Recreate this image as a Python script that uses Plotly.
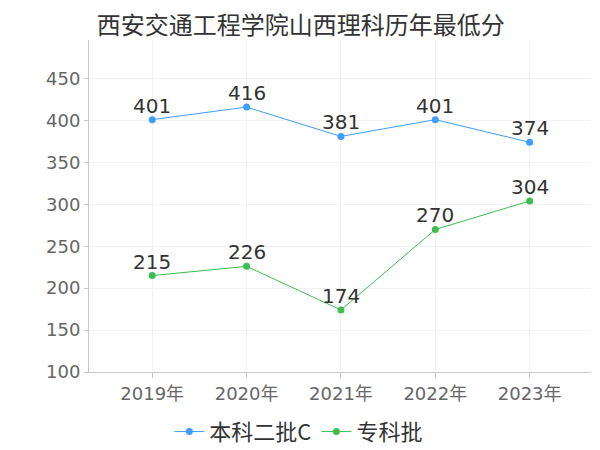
import plotly.graph_objects as go

years = ["2019年", "2020年", "2021年", "2022年", "2023年"]
benke = [401, 416, 381, 401, 374]
zhuanke = [215, 226, 174, 270, 304]
series_names = ["本科二批C", "专科批"]
yticks = [100, 150, 200, 250, 300, 350, 400, 450]

num_font = "DejaVu Sans, Noto Sans CJK SC, sans-serif"
cjk_font = "Noto Sans CJK SC, DejaVu Sans, sans-serif"
colors = ["#3D9EFF", "#3CBF4F"]

fig = go.Figure()
for name, vals, col in zip(series_names, [benke, zhuanke], colors):
    fig.add_trace(go.Scatter(
        x=years, y=vals, name=name, mode="lines+markers",
        line=dict(color=col, width=1), marker=dict(size=7, color=col),
        cliponaxis=False,
    ))
    for xv, yv in zip(years, vals):
        fig.add_annotation(
            x=xv, y=yv, text=str(yv), showarrow=False,
            yanchor="bottom", yshift=0,
            font=dict(size=20, color="#333333", family=num_font),
        )

fig.update_layout(
    width=600, height=450,
    margin=dict(l=81, r=17, t=32, b=86, autoexpand=False),
    paper_bgcolor="white", plot_bgcolor="white",
    font=dict(family=num_font, color="#666666"),
    title=dict(text="西安交通工程学院山西理科历年最低分", x=0.148, xanchor="left",
               y=0.962, yanchor="middle",
               font=dict(size=24, color="#333333", family=cjk_font)),
    showlegend=True,
    legend=dict(orientation="h", x=0.418, xanchor="center", y=-0.18, yanchor="middle",
                font=dict(size=22, color="#333333", family=cjk_font),
                itemwidth=30, tracegroupgap=0),
    xaxis=dict(
        type="category", range=[-0.67, 4.65], automargin=False,
        showgrid=True, gridcolor="#F2F2F2", gridwidth=1,
        showline=True, linecolor="#C8C8C8", linewidth=1,
        ticks="outside", ticklen=5, tickcolor="#C8C8C8",
        tickfont=dict(size=18, color="#666666", family=num_font),
        zeroline=False,
    ),
    yaxis=dict(
        range=[100, 496], tickvals=yticks, automargin=False,
        showgrid=True, gridcolor="#F2F2F2", gridwidth=1,
        showline=True, linecolor="#C8C8C8", linewidth=1,
        ticks="outside", ticklen=4, tickcolor="#C8C8C8",
        tickfont=dict(size=18, color="#666666", family=num_font),
        zeroline=False,
    ),
)

fig.write_html("out.html")
